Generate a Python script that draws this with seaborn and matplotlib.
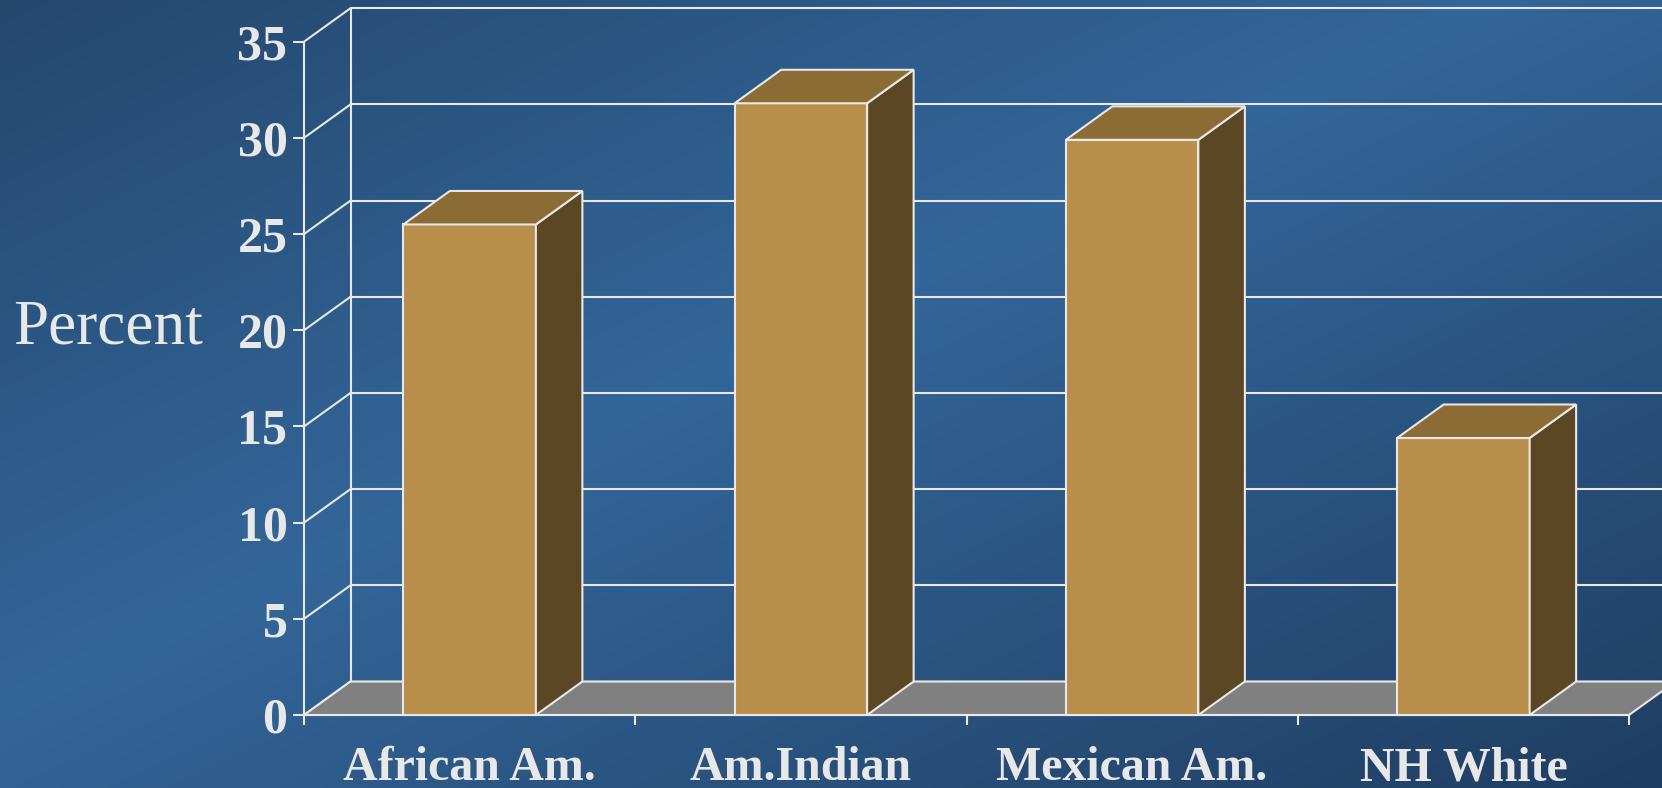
import numpy as np
import matplotlib
matplotlib.use("Agg")
import matplotlib.pyplot as plt
from matplotlib.patches import Polygon
import seaborn as sns
import pandas as pd

# ---- data ----
categories = ["African Am.", "Am.Indian", "Mexican Am.", "NH White"]
values = [25.5, 31.8, 29.9, 14.4]
yticks = [0, 5, 10, 15, 20, 25, 30, 35]
ylabel_text = "Percent"

# ---- style ----
W, H, DPI = 1662, 788, 100
FRONT = "#B98E4A"
TOP = "#8B6C35"
SIDE = "#5C4724"
FLOOR = "#808080"
LINE = "#E8E8E8"
TEXT = "#E8E8E8"
LW = 1.5

sns.set_style("white")
plt.rcParams["font.family"] = ["Liberation Serif", "DejaVu Serif"]

fig = plt.figure(figsize=(W / DPI, H / DPI), dpi=DPI)

# background gradient
bg = fig.add_axes([0, 0, 1, 1], zorder=-10)
yy, xx = np.mgrid[0:1:300j, 0:1:600j]
t = (xx + yy) / 2.0
stops = [0.0, 0.45, 1.0]
cols = np.array([[0x24, 0x47, 0x6e], [0x33, 0x66, 0x99], [0x1f, 0x3d, 0x62]]) / 255.0
img = np.dstack([np.interp(t, stops, cols[:, k]) for k in range(3)])
bg.imshow(img, extent=[0, 1, 0, 1], origin="upper", aspect="auto")
bg.set_xlim(0, 1)
bg.set_ylim(0, 1)
bg.axis("off")

# main axes
ax = fig.add_axes([304 / W, (H - 715) / H, 1325 / W, 673.3 / H])
ax.set_facecolor("none")

df = pd.DataFrame({"group": categories, "pct": values})
sns.barplot(data=df, x="group", y="pct", width=0.4, color=FRONT, saturation=1,
            edgecolor=LINE, linewidth=LW, ax=ax, zorder=4)

ax.set_xlim(-0.5, len(categories) - 0.5)
ax.set_ylim(0, 35)

# depth offset (in data units)
dx, dy = 0.1404, 1.741
x0a, x1a = -0.5, len(categories) - 0.5

# back wall gridlines and left wall diagonals
for y in yticks:
    ax.plot([x0a, x0a + dx], [y, y + dy], color=LINE, lw=LW, clip_on=False, zorder=1)
    ax.plot([x0a + dx, x1a + dx], [y + dy, y + dy], color=LINE, lw=LW, clip_on=False, zorder=1)
ax.plot([x0a + dx, x0a + dx], [dy, yticks[-1] + dy], color=LINE, lw=LW, clip_on=False, zorder=1)

# floor
floor = Polygon([(x0a, 0), (x1a, 0), (x1a + dx, dy), (x0a + dx, dy)],
                closed=True, fc=FLOOR, ec=LINE, lw=LW, clip_on=False, zorder=2)
ax.add_patch(floor)

# 3D faces of bars
bars = [p for p in ax.patches if p is not floor]
for p in bars:
    bx, bw, bh = p.get_x(), p.get_width(), p.get_height()
    p.set_clip_on(False)
    side = Polygon([(bx + bw, 0), (bx + bw + dx, dy), (bx + bw + dx, bh + dy), (bx + bw, bh)],
                   closed=True, fc=SIDE, ec=LINE, lw=LW, clip_on=False, zorder=4)
    top = Polygon([(bx, bh), (bx + bw, bh), (bx + bw + dx, bh + dy), (bx + dx, bh + dy)],
                  closed=True, fc=TOP, ec=LINE, lw=LW, clip_on=False, zorder=4)
    ax.add_patch(side)
    ax.add_patch(top)

# spines
for s in ["top", "right"]:
    ax.spines[s].set_visible(False)
for s in ["left", "bottom"]:
    ax.spines[s].set_color(LINE)
    ax.spines[s].set_linewidth(LW)
    ax.spines[s].set_zorder(3)

# y ticks
ax.set_yticks(yticks)
ax.set_yticklabels([str(v) for v in yticks])
ax.tick_params(axis="y", length=7.9, width=LW, color=LINE, pad=4.0,
               labelsize=36, labelcolor=TEXT, left=True)
for lab in ax.get_yticklabels():
    lab.set_fontweight("bold")

# x ticks
ax.set_xticks(range(len(categories)))
ax.set_xticklabels(categories)
ax.set_xticks(np.arange(-0.5, len(categories)), minor=True)
ax.tick_params(axis="x", which="major", length=0, pad=22.5, labelsize=34.5, labelcolor=TEXT)
ax.tick_params(axis="x", which="minor", length=7.5, width=LW, color=LINE, bottom=True)
for lab in ax.get_xticklabels():
    lab.set_fontweight("bold")

ax.set_xlabel("")
ax.set_ylabel(ylabel_text, rotation=0, fontsize=45.5, color=TEXT, ha="center", va="baseline")
ax.yaxis.set_label_coords((108.5 - 304) / 1325, (715 - 343) / 673.3)

fig.savefig("out.png", dpi=DPI)
